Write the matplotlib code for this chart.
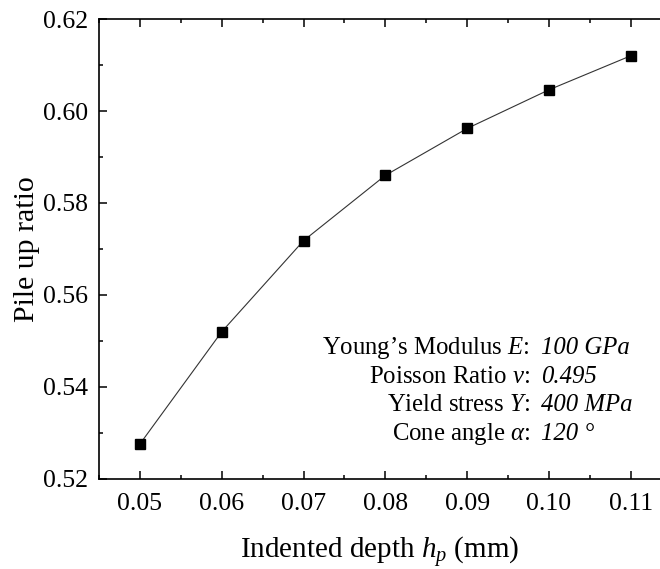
import numpy as np
import matplotlib
matplotlib.use("Agg")
import matplotlib.pyplot as plt
from matplotlib.ticker import MultipleLocator, FormatStrFormatter

# data
depth = [0.05, 0.06, 0.07, 0.08, 0.09, 0.10, 0.11]
pile_up = [0.5276, 0.5520, 0.5718, 0.5860, 0.5962, 0.6046, 0.6120]

param_names = ["Young\u2019s Modulus $E$:", "Poisson Ratio $\\nu$:",
               "Yield stress $Y$:", "Cone angle $\\alpha$:"]
param_values = ["100 GPa", "0.495", "400 MPa", "120 \u00b0"]

plt.rcParams['font.family'] = ['Liberation Serif', 'DejaVu Serif']
plt.rcParams['mathtext.fontset'] = 'custom'
plt.rcParams['mathtext.rm'] = 'Liberation Serif'
plt.rcParams['mathtext.it'] = 'Liberation Serif:italic'
plt.rcParams['mathtext.bf'] = 'Liberation Serif:bold'

fig = plt.figure(figsize=(6.6, 5.69), dpi=100)
ax = fig.add_axes([0.15, 0.1582, 0.8676, 0.8084])

ax.plot(depth, pile_up, color='#333333', linewidth=0.8,
        marker='s', markersize=7, markerfacecolor='black',
        markeredgecolor='black', zorder=3)

ax.set_xlim(0.045, 0.115)
ax.set_ylim(0.52, 0.62)
ax.xaxis.set_major_locator(MultipleLocator(0.01))
ax.xaxis.set_minor_locator(MultipleLocator(0.005))
ax.yaxis.set_major_locator(MultipleLocator(0.02))
ax.yaxis.set_minor_locator(MultipleLocator(0.01))
ax.xaxis.set_major_formatter(FormatStrFormatter('%.2f'))
ax.yaxis.set_major_formatter(FormatStrFormatter('%.2f'))

ax.tick_params(which='both', direction='in', top=True, right=False,
               labelsize=18.5, width=1.1, color='black')
ax.tick_params(which='major', length=6)
ax.tick_params(which='minor', length=3)
ax.tick_params(axis='x', which='major', pad=10)
ax.tick_params(axis='y', which='major', pad=8)
for side in ['left', 'bottom', 'top']:
    ax.spines[side].set_linewidth(1.2)
ax.spines['right'].set_visible(False)

ax.set_xlabel("Indented depth $h_p$ (mm)", fontsize=21)
ax.xaxis.set_label_coords(0.491, -0.122)
ax.set_ylabel("Pile up ratio", fontsize=21.5, labelpad=2)

# parameter block: names right-aligned at the colon, values left-aligned
y0 = 0.285
dy = 0.0625
for i, (name, val) in enumerate(zip(param_names, param_values)):
    y = y0 - i * dy
    ax.text(0.7527, y, name, transform=ax.transAxes, fontsize=17.8,
            ha='right', va='center')
    ax.text(0.772, y, val, transform=ax.transAxes, fontsize=17.8,
            ha='left', va='center', style='italic')

fig.savefig("out.png", dpi=100)
